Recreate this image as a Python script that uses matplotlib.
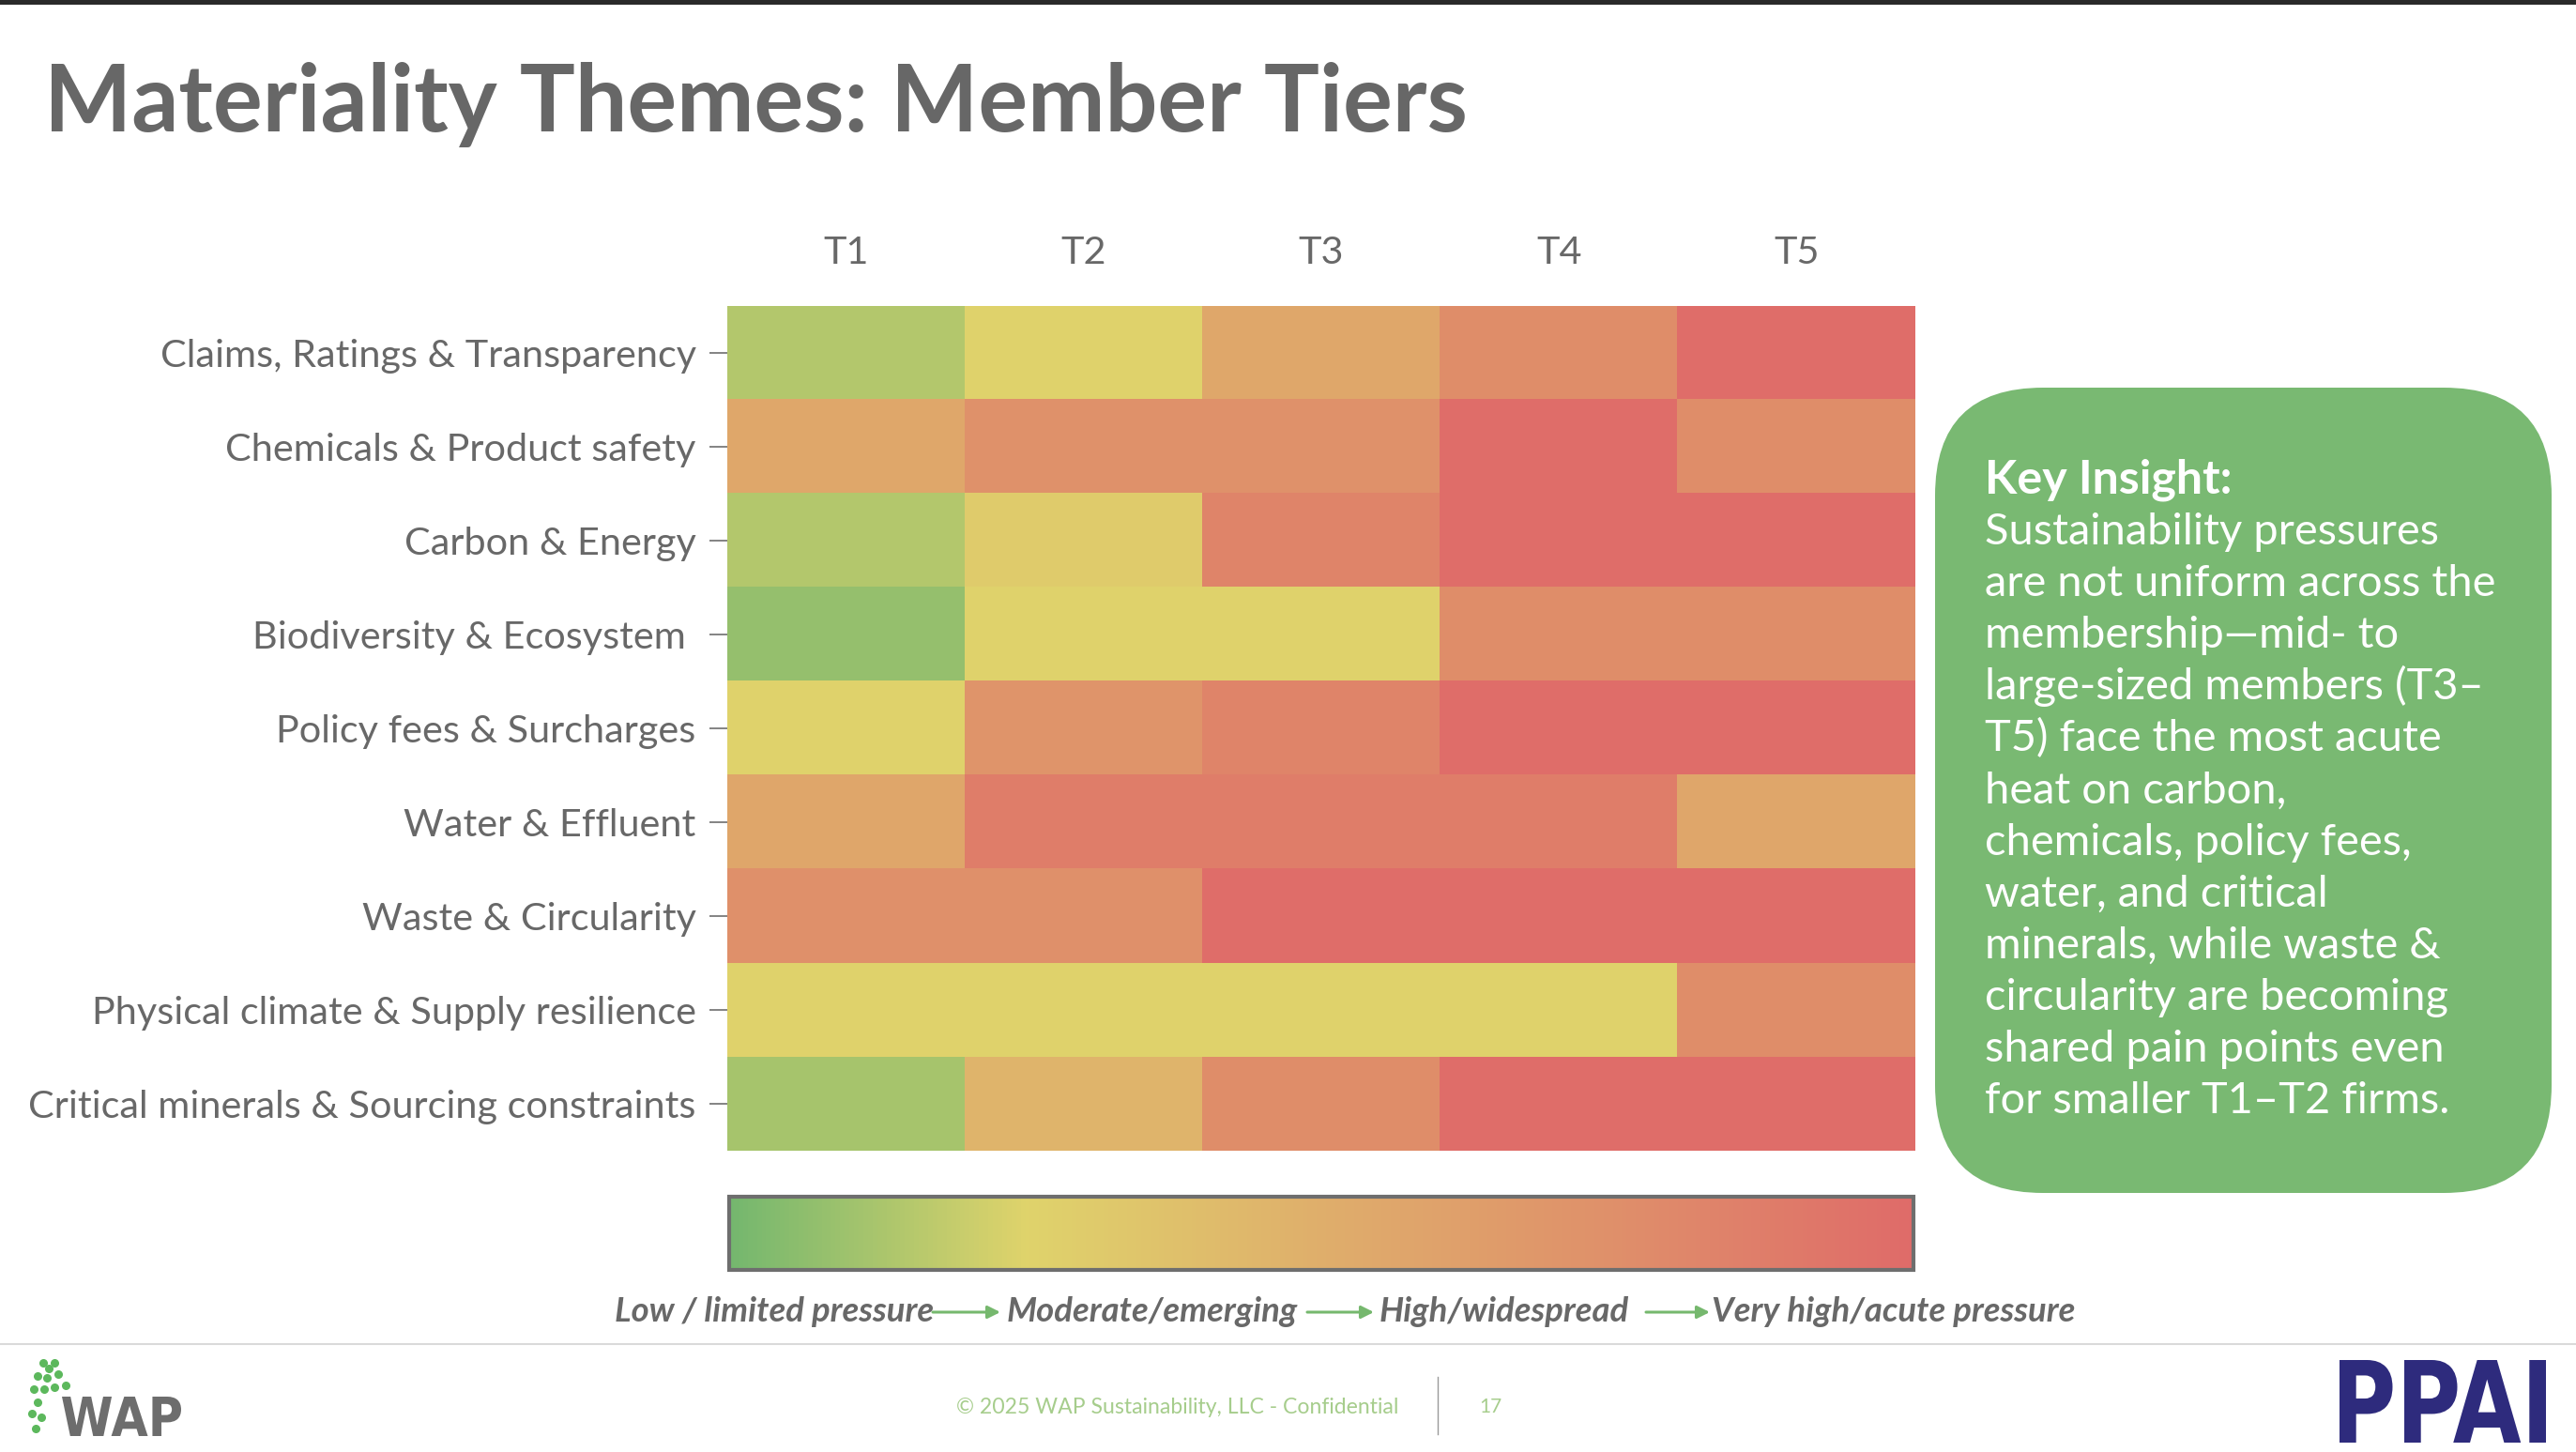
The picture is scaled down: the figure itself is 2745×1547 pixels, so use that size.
import matplotlib
matplotlib.use("Agg")
import matplotlib.pyplot as plt
import numpy as np
from matplotlib.colors import LinearSegmentedColormap
from matplotlib.patches import FancyBboxPatch, Rectangle, PathPatch
from matplotlib.textpath import TextPath
from matplotlib.font_manager import FontProperties
from matplotlib.transforms import Affine2D

plt.rcParams["font.family"] = ["Lato", "DejaVu Sans"]

# ---------------- data ----------------
tiers = ["T1", "T2", "T3", "T4", "T5"]
themes = [
    "Claims, Ratings & Transparency",
    "Chemicals & Product safety",
    "Carbon & Energy",
    "Biodiversity & Ecosystem ",
    "Policy fees & Surcharges",
    "Water & Effluent",
    "Waste & Circularity",
    "Physical climate & Supply resilience",
    "Critical minerals & Sourcing constraints",
]
# pressure index 0 (low) .. 100 (very high), per tier T1..T5
claims = [15, 25, 55, 76, 98]
chemicals = [55, 73, 73, 98, 76]
carbon = [15, 30, 82, 98, 98]
biodiversity = [8, 25, 25, 76, 76]
policy = [25, 70, 82, 98, 98]
water = [56, 87, 87, 87, 56]
waste = [74, 74, 98, 98, 98]
physical = [25, 25, 25, 25, 76]
critical = [12, 46, 76, 98, 98]

scale_labels = ["Low / limited pressure", "Moderate/emerging",
                "High/widespread", "Very high/acute pressure"]

title = "Materiality Themes: Member Tiers"
insight_head = "Key Insight:"
insight_lines = [
    "Sustainability pressures",
    "are not uniform across the",
    "membership\u2014mid- to",
    "large-sized members (T3\u2013",
    "T5) face the most acute",
    "heat on carbon,",
    "chemicals, policy fees,",
    "water, and critical",
    "minerals, while waste &",
    "circularity are becoming",
    "shared pain points even",
    "for smaller T1\u2013T2 firms.",
]
footer = "\u00a9 2025 WAP Sustainability, LLC - Confidential"
page = "17"

# ---------------- figure ----------------
W, H = 2745, 1547
DPI = 100
fig = plt.figure(figsize=(W / DPI, H / DPI), dpi=DPI)
fig.patch.set_facecolor("white")

bg = fig.add_axes([0, 0, 1, 1], zorder=0)
bg.set_xlim(0, W)
bg.set_ylim(H, 0)
bg.axis("off")


def fx(x):
    return x / W


def fy(y):
    return 1 - y / H


cmap = LinearSegmentedColormap.from_list(
    "pressure",
    [(0.0, "#74b76e"), (0.25, "#dfd36b"), (0.5, "#dfae6b"),
     (0.75, "#df8f6a"), (1.0, "#df6b69")])

data = np.array([claims, chemicals, carbon, biodiversity, policy,
                 water, waste, physical, critical])

TXT = "#686868"

# heatmap
hx0, hx1, hy0, hy1 = 775, 2041, 326, 1226
ax = fig.add_axes([fx(hx0), fy(hy1), (hx1 - hx0) / W, (hy1 - hy0) / H], zorder=2)
im = ax.imshow(data, cmap=cmap, vmin=0, vmax=100, aspect="auto",
               interpolation="nearest")
ax.set_xticks(range(len(tiers)), tiers)
ax.set_yticks(range(len(themes)), themes)
ax.xaxis.tick_top()
ax.tick_params(axis="x", length=0, pad=27, labelsize=26, labelcolor=TXT)
ax.tick_params(axis="y", length=14, width=1.3, color="#7a7a7a", pad=10,
               labelsize=26, labelcolor=TXT)
for s in ax.spines.values():
    s.set_visible(False)

# colorbar
cx0, cx1, cy0, cy1 = 777, 2039, 1275, 1353
cax = fig.add_axes([fx(cx0), fy(cy1), (cx1 - cx0) / W, (cy1 - cy0) / H], zorder=2)
cb = fig.colorbar(im, cax=cax, orientation="horizontal")
cb.set_ticks([])
cb.outline.set_edgecolor("#6e6e6e")
cb.outline.set_linewidth(3)

# top rule and footer rule
bg.add_patch(Rectangle((0, 0), W, 5, fc="#2a2a2a", ec="none"))
bg.plot([0, W], [1432, 1432], color="#dadada", lw=1.5)

# title
t_title = bg.text(47, 140, title, fontsize=64, fontweight="bold",
                  color="#676767", ha="left", va="baseline")

# legend labels with arrows
GREEN = "#76b86e"
leg_x = [655, 1073, 1470, 1824]
arrows = [(994, 1066), (1393, 1464), (1754, 1822)]
leg_texts = []
for x, s in zip(leg_x, scale_labels):
    leg_texts.append(bg.text(x, 1408, s, fontsize=22, fontweight="bold",
                             fontstyle="italic", color=TXT, ha="left",
                             va="baseline"))
for a, b in arrows:
    bg.annotate("", xy=(b, 1398), xytext=(a, 1398),
                arrowprops=dict(arrowstyle="-|>,head_length=0.8,head_width=0.4",
                                color=GREEN, lw=2.2, shrinkA=0, shrinkB=0))

# key insight box
bg.add_patch(FancyBboxPatch((2062, 413), 657, 858,
                            boxstyle="round,pad=0,rounding_size=115",
                            fc="#79b972", ec="none", zorder=1))
t_head = bg.text(2115, 525, insight_head, fontsize=28, fontweight="bold",
                 color="white", ha="left", va="baseline", zorder=3)
t_lines = []
for i, s in enumerate(insight_lines):
    t_lines.append(bg.text(2115, 525 + 55.1 * (i + 1), s, fontsize=28,
                           color="white", ha="left", va="baseline", zorder=3))

# footer
t_foot = bg.text(1019, 1499, footer, fontsize=15, color="#a6cd8c",
                 ha="left", va="center")
bg.text(1576, 1499, page, fontsize=15, color="#a6cd8c", ha="left", va="center")
bg.plot([1532, 1532], [1467, 1528], color="#9a9a9a", lw=1)


def path_logo(text, x0, x1, ytop, ybot, color, weight="bold"):
    fp = FontProperties(family="DejaVu Sans", weight=weight)
    tp = TextPath((0, 0), text, size=100, prop=fp)
    ext = tp.get_extents()
    sx = (x1 - x0) / ext.width
    sy = (ybot - ytop) / ext.height
    tr = (Affine2D().translate(-ext.x0, -ext.y0).scale(sx, -sy)
          .translate(x0, ybot) + bg.transData)
    bg.add_patch(PathPatch(tp, transform=tr, fc=color, ec="none"))


path_logo("PPAI", 2493, 2713, 1449, 1537, "#2e2b7d")
path_logo("WAP", 66, 193, 1488, 1530, "#6d6d6d")
leaf_x = [46, 52, 58, 40, 50, 62, 36, 47, 58, 70, 40, 34, 44, 38]
leaf_y = [1452, 1458, 1452, 1466, 1468, 1464, 1480, 1480, 1478, 1476, 1494, 1506, 1510, 1522]
bg.scatter(leaf_x, leaf_y, s=30, marker="o", color="#5cb85c", zorder=3)

# ---------------- fit text widths to reference ----------------
fig.canvas.draw()
r = fig.canvas.get_renderer()


def scale_for(t, target):
    return target / t.get_window_extent(r).width


k = scale_for(t_title, 1516)
t_title.set_fontsize(t_title.get_fontsize() * k)

k = scale_for(leg_texts[0], 340)
for t in leg_texts:
    t.set_fontsize(t.get_fontsize() * k)

k = scale_for(t_lines[1], 545)
for t in t_lines:
    t.set_fontsize(t.get_fontsize() * k)
k2 = scale_for(t_head, 264)
t_head.set_fontsize(t_head.get_fontsize() * k2)

k = scale_for(t_foot, 471)
t_foot.set_fontsize(t_foot.get_fontsize() * k)

lab0 = ax.get_yticklabels()[0]
k = scale_for(lab0, 569)
ax.tick_params(axis="both", labelsize=26 * k)

fig.savefig("out.png", dpi=DPI, facecolor="white")
